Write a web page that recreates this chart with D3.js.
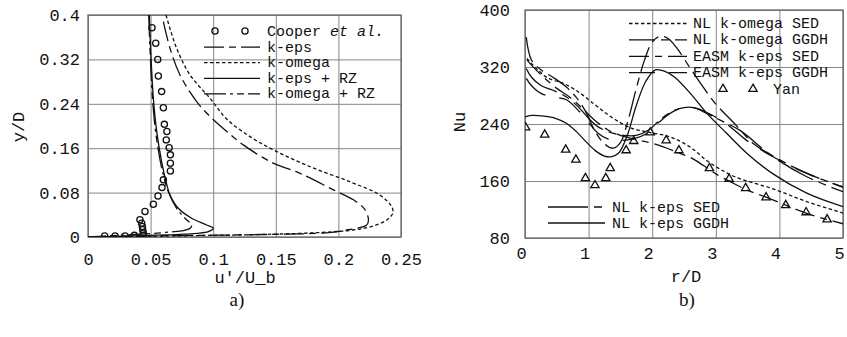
<!DOCTYPE html>
<html>
<head>
<meta charset="utf-8">
<script src="https://cdn.jsdelivr.net/npm/d3@7"></script>
<style>
  body { margin: 0; background: #fff; }
  svg text { fill: #111; }
  .grid line { stroke: #858585; stroke-width: 1; }
  .grid path { display: none; }
</style>
</head>
<body>
<svg id="fig" width="847" height="337"></svg>
<script>
// ---- panel a) : u'/U_b vs y/D  ([u, y] pairs) ----
const cooper = [
  [0.0511,0.377],[0.0541,0.349],[0.0557,0.320],[0.0562,0.290],[0.0588,0.262],
  [0.0602,0.233],[0.0610,0.203],[0.0630,0.190],[0.0625,0.175],[0.0648,0.161],
  [0.0658,0.148],[0.0658,0.133],[0.0658,0.119],[0.0602,0.103],[0.0591,0.089],
  [0.0559,0.074],[0.0522,0.059],[0.0455,0.046],[0.0415,0.031],[0.0429,0.025],
  [0.0434,0.019],[0.0437,0.013],[0.0442,0.007],[0.0440,0.003],[0.0370,0.003],
  [0.0296,0.002],[0.0216,0.002],[0.0133,0.002]
];
const kEps = [
  [0.0602,0.388],[0.0655,0.340],[0.0735,0.292],[0.0868,0.244],[0.0985,0.215],
  [0.111,0.190],[0.124,0.166],[0.148,0.133],[0.169,0.115],[0.196,0.085],
  [0.212,0.067],[0.221,0.050],[0.224,0.031],[0.2226,0.0216],[0.2067,0.0126],
  [0.19,0.0076],[0.15,0.0048],[0.10,0.0032],[0.05,0.002],[0.02,0.001],[0,0]
];
const kOmega = [
  [0.0623,0.4],[0.0708,0.340],[0.0815,0.292],[0.0974,0.250],[0.111,0.212],
  [0.13,0.18],[0.148,0.157],[0.177,0.127],[0.209,0.0997],[0.233,0.0757],
  [0.2426,0.0546],[0.2434,0.0427],[0.2386,0.0306],[0.2279,0.0198],[0.2119,0.0126],
  [0.1827,0.0078],[0.1427,0.0048],[0.1028,0.003],[0.05,0.0015],[0,0]
];
const kEpsRz = [
  [0.049,0.4],[0.050,0.340],[0.0522,0.250],[0.0549,0.190],[0.0588,0.136],
  [0.0623,0.100],[0.0655,0.0757],[0.0721,0.0517],[0.0828,0.0337],[0.0948,0.0216],
  [0.1001,0.0157],[0.0961,0.0096],[0.0868,0.0066],[0.0735,0.0048],[0.05,0.003],
  [0.02,0.0012],[0,0]
];
const kOmegaRz = [
  [0.0485,0.4],[0.0495,0.340],[0.0515,0.250],[0.054,0.190],[0.0578,0.136],
  [0.0602,0.112],[0.0635,0.085],[0.0708,0.0517],[0.0775,0.0337],[0.0828,0.0216],
  [0.0815,0.0157],[0.0761,0.0114],[0.0655,0.0090],[0.05,0.006],[0.02,0.0025],[0,0]
];
const aXTicks = [0, 0.05, 0.1, 0.15, 0.2, 0.25];
const aXLabels = ['0', '0.05', '0.1', '0.15', '0.2', '0.25'];
const aYTicks = [0, 0.08, 0.16, 0.24, 0.32, 0.4];
const aYLabels = ['0', '0.08', '0.16', '0.24', '0.32', '0.4'];
const aLegend = ['k-eps', 'k-omega', 'k-eps + RZ', 'k-omega + RZ'];

// ---- panel b) : Nu vs r/D  ([r, Nu] pairs) ----
const nlKomegaSed = [
  [0.03,332],[0.1,325],[0.2,316],[0.35,305],[0.5,300],[0.63,296],[0.84,285],
  [1.1,267],[1.37,249],[1.68,234],[1.97,228],[2.28,222],[2.59,208],[2.9,186],
  [3.3,166],[3.9,149],[4.43,131],[5,115]
];
const nlKomegaGgdh = [
  [0.02,362],[0.05,345],[0.1,330],[0.25,316],[0.45,305],[0.65,292],[0.8,278],
  [0.95,258],[1.1,230],[1.25,212],[1.38,206],[1.5,214],[1.62,245],[1.75,290],
  [1.88,330],[2.0,355],[2.12,363],[2.25,360],[2.4,345],[2.6,318],[2.8,292],
  [3.0,268],[3.3,240],[3.6,212],[4.0,190],[4.5,168],[5,152]
];
const easmKepsSed = [
  [0.03,330],[0.15,318],[0.3,305],[0.5,290],[0.7,278],[0.9,262],[1.1,245],
  [1.3,232],[1.5,224],[1.75,218],[2.0,213],[2.2,207],[2.4,200],[2.6,193],
  [2.8,182],[3.0,170],[3.25,158],[3.5,147],[3.8,137],[4.1,126],[4.45,114],
  [4.75,106],[5,100]
];
const easmKepsGgdh = [
  [0.02,304],[0.1,294],[0.25,283],[0.45,278],[0.65,274],[0.85,258],[1.0,242],
  [1.15,227],[1.3,219],[1.5,217],[1.7,219],[1.9,226],[2.1,242],[2.3,256],
  [2.5,263],[2.7,262],[2.95,252],[3.2,238],[3.5,216],[3.9,194],[4.4,172],[5,151]
];
const nlKepsSed = [
  [0.02,318],[0.1,306],[0.25,294],[0.45,287],[0.65,278],[0.85,263],[1.0,248],
  [1.15,236],[1.35,228],[1.55,224],[1.75,224],[1.95,232],[2.15,248],[2.35,259],
  [2.5,263],[2.65,263],[2.9,253],[3.1,244],[3.38,231],[3.9,194],[4.43,166],[5,145]
];
const nlKepsGgdh = [
  [0,250],[0.1,252],[0.3,251],[0.48,248],[0.65,241],[0.8,230],[0.95,216],
  [1.1,203],[1.25,195],[1.35,194],[1.47,199],[1.6,222],[1.75,266],[1.9,300],
  [2.05,316],[2.2,314],[2.35,306],[2.6,283],[2.86,255],[3.17,227],[3.5,198],
  [3.9,170],[4.43,143],[5,124]
];
const yan = [
  [0.01,235],[0.31,225],[0.64,204],[0.80,190],[0.95,164],[1.10,154],[1.27,164],
  [1.34,178],[1.59,203],[1.71,216],[1.97,228],[2.22,217],[2.42,203],[2.9,178],
  [3.21,163],[3.47,150],[3.79,137],[4.1,126],[4.42,116],[4.75,106]
];
const bXTicks = [0, 1, 2, 3, 4, 5];
const bYTicks = [80, 160, 240, 320, 400];
const bLegendTop = ['NL k-omega SED', 'NL k-omega GGDH', 'EASM k-eps SED', 'EASM k-eps GGDH'];
const bLegendBottom = ['NL k-eps SED', 'NL k-eps GGDH'];

const MONO = '"Liberation Mono", "DejaVu Sans Mono", monospace';
const SERIF = '"Liberation Serif", "DejaVu Serif", serif';

const svg = d3.select('#fig');

function panel(id, x, y, xTicks, xFmt, yTicks, yFmt, xPad, yPad, xShift) {
  const g = svg.append('g').attr('id', id);
  const [x0, x1] = x.range();
  const [y0, y1] = y.range();
  g.append('g')
    .attr('class', 'grid')
    .attr('transform', `translate(0,${y0})`)
    .call(d3.axisBottom(x).tickValues(xTicks).tickFormat(xFmt)
      .tickSizeInner(-(y0 - y1)).tickSizeOuter(0).tickPadding(xPad))
    .selectAll('text')
      .attr('dx', xShift)
      .style('font-size', '17px')
      .style('font-family', MONO);
  g.append('g')
    .attr('class', 'grid')
    .attr('transform', `translate(${x0},0)`)
    .call(d3.axisLeft(y).tickValues(yTicks).tickFormat(yFmt)
      .tickSizeInner(-(x1 - x0)).tickSizeOuter(0).tickPadding(yPad))
    .selectAll('text')
      .style('font-size', '17px')
      .style('font-family', MONO);
  g.append('rect')
    .attr('x', x0).attr('y', y1)
    .attr('width', x1 - x0).attr('height', y0 - y1)
    .attr('fill', 'none').attr('stroke', '#6a6a6a').attr('stroke-width', 1.3);
  g.append('clipPath').attr('id', id + '-clip')
    .append('rect')
      .attr('x', x0).attr('y', y1 - 1)
      .attr('width', x1 - x0).attr('height', y0 - y1 + 1);
  return g;
}

function drawCurves(g, id, x, y, series) {
  const line = d3.line()
    .x(d => x(d[0]))
    .y(d => y(d[1]))
    .curve(d3.curveCatmullRom.alpha(0.5));
  const cg = g.append('g').attr('clip-path', `url(#${id}-clip)`);
  series.forEach(s => {
    cg.append('path')
      .attr('d', line(s.pts))
      .attr('fill', 'none')
      .attr('stroke', '#111')
      .attr('stroke-width', 1.3)
      .attr('stroke-dasharray', s.dash);
  });
  return cg;
}

function legendLine(g, x0, x1, yy, dash) {
  g.append('line')
    .attr('x1', x0).attr('x2', x1).attr('y1', yy).attr('y2', yy)
    .attr('stroke', '#111').attr('stroke-width', 1.3)
    .attr('stroke-dasharray', dash);
}

function label(g, txt, size, family) {
  return g.append('text')
    .style('font-size', size + 'px')
    .style('font-family', family || MONO)
    .text(txt);
}

// ================= panel a =================
const xA = d3.scaleLinear().domain([0, 0.25]).range([88, 401]);
const yA = d3.scaleLinear().domain([0, 0.4]).range([237, 15]);
const gA = panel('pa', xA, yA, aXTicks, (d, i) => aXLabels[i], aYTicks, (d, i) => aYLabels[i], 16, 8, 0);

const aSeries = [
  { pts: kEps, dash: '20,5,7,5' },
  { pts: kOmega, dash: '3.5,2.5' },
  { pts: kEpsRz, dash: null },
  { pts: kOmegaRz, dash: '22,4,3,4,7,4' }
];
const cgA = drawCurves(gA, 'pa', xA, yA, aSeries);
cgA.selectAll('circle.cooper')
  .data(cooper)
  .enter().append('circle')
    .attr('class', 'cooper')
    .attr('cx', d => xA(d[0]))
    .attr('cy', d => yA(d[1]))
    .attr('r', 3.1)
    .attr('fill', 'none')
    .attr('stroke', '#111')
    .attr('stroke-width', 1.3);

// legend a
const legA = gA.append('g');
[215, 245].forEach(cx => {
  legA.append('circle').attr('cx', cx).attr('cy', 31).attr('r', 3.1)
    .attr('fill', 'none').attr('stroke', '#111').attr('stroke-width', 1.3);
});
const coopText = label(legA, null, 15, MONO).attr('x', 267).attr('y', 36);
coopText.append('tspan').text('Cooper ');
coopText.append('tspan').style('font-style', 'italic').text('et al.');
aLegend.forEach((t, i) => {
  const base = 36 + (i + 1) * 15.6;
  legendLine(legA, 204, 260, base - 4.5, aSeries[i].dash);
  label(legA, t, 15).attr('x', 267).attr('y', base);
});

label(gA, "u'/U_b", 17).attr('x', 245).attr('y', 283).attr('text-anchor', 'middle');
label(gA, 'y/D', 17).attr('transform', 'translate(24,127) rotate(-90)').attr('text-anchor', 'middle');
label(gA, 'a)', 19, SERIF).attr('x', 237).attr('y', 306).attr('text-anchor', 'middle');

// ================= panel b =================
const xB = d3.scaleLinear().domain([0, 5]).range([525, 843]);
const yB = d3.scaleLinear().domain([80, 400]).range([238, 10]);
const gB = panel('pb', xB, yB, bXTicks, d3.format('d'), bYTicks, d3.format('d'), 9, 15, -4);

const bSeries = [
  { pts: nlKomegaSed, dash: '3.5,2.5' },
  { pts: nlKomegaGgdh, dash: '26,6,8,6' },
  { pts: easmKepsSed, dash: '20,6,7,6' },
  { pts: easmKepsGgdh, dash: '26,14' },
  { pts: nlKepsSed, dash: '40,6,8,6' },
  { pts: nlKepsGgdh, dash: null }
];
const cgB = drawCurves(gB, 'pb', xB, yB, bSeries);
const tri = d3.symbol().type(d3.symbolTriangle).size(30);
cgB.selectAll('path.yan')
  .data(yan)
  .enter().append('path')
    .attr('class', 'yan')
    .attr('d', tri)
    .attr('transform', d => `translate(${xB(d[0])},${yB(d[1])})`)
    .attr('fill', 'none')
    .attr('stroke', '#111')
    .attr('stroke-width', 1.3);

const legB = gB.append('g');
bLegendTop.forEach((t, i) => {
  const base = 28 + i * 16.4;
  legendLine(legB, 629, 687, base - 4.5, bSeries[i].dash);
  label(legB, t, 15).attr('x', 693).attr('y', base);
});
[723, 753].forEach(cx => {
  legB.append('path').attr('d', tri).attr('transform', `translate(${cx},89)`)
    .attr('fill', 'none').attr('stroke', '#111').attr('stroke-width', 1.3);
});
label(legB, 'Yan', 15).attr('x', 773).attr('y', 93.5);
bLegendBottom.forEach((t, i) => {
  const base = 211.5 + i * 16;
  legendLine(legB, 548, 605, base - 4.5, bSeries[4 + i].dash);
  label(legB, t, 15).attr('x', 612).attr('y', base);
});

label(gB, 'r/D', 17).attr('x', 686).attr('y', 282).attr('text-anchor', 'middle');
label(gB, 'Nu', 17).attr('transform', 'translate(465,122) rotate(-90)').attr('text-anchor', 'middle');
label(gB, 'b)', 19, SERIF).attr('x', 687).attr('y', 306).attr('text-anchor', 'middle');
</script>
</body>
</html>
